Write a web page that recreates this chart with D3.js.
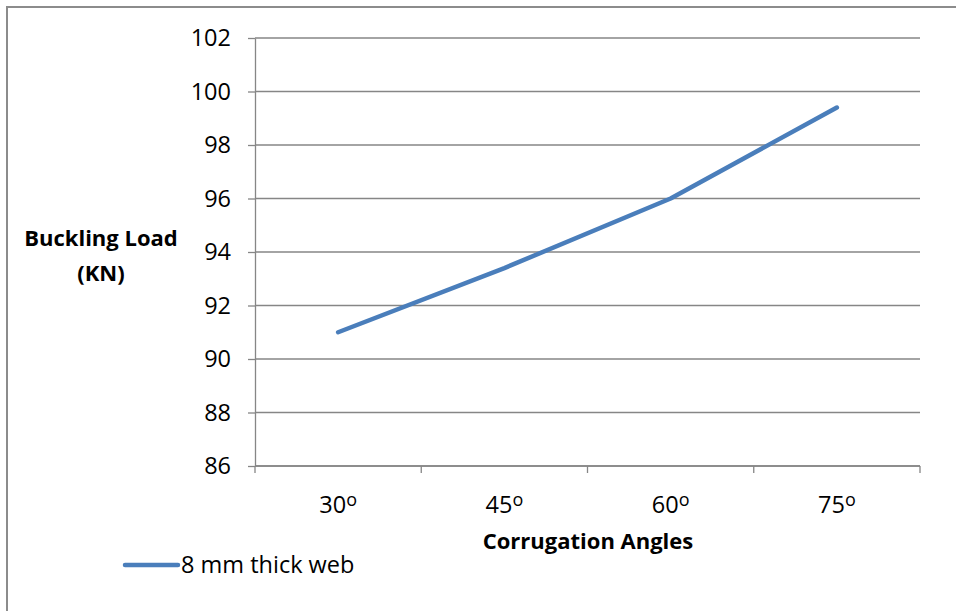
<!DOCTYPE html>
<html>
<head>
<meta charset="utf-8">
<script src="https://cdn.jsdelivr.net/npm/d3@7"></script>
<style>
  html, body { margin: 0; padding: 0; background: #fff; }
  svg { display: block; font-family: "Open Sans", Lato, sans-serif; }
</style>
</head>
<body>
<svg id="chart" width="956" height="611"></svg>
<script>
// Corrugation angle (degrees) and buckling load (kN) for the 8 mm web
const angles = [30, 45, 60, 75];
const bucklingLoad = [91.0, 93.4, 96.0, 99.4];
const yTicks = [86, 88, 90, 92, 94, 96, 98, 100, 102];
const seriesName = "8 mm thick web";

const svg = d3.select("#chart");
const plot = { left: 255, right: 920, top: 38, bottom: 466 };
const gridColor = "#868686";
const lineColor = "#4a7ebb";
const fontFamily = "'Open Sans', Lato, sans-serif";
const labelSize = 23.5;
const titleSize = 22;

// outer chart frame (top and left edges)
svg.append("path")
  .attr("d", "M7,611 L7,7 L956,7")
  .attr("fill", "none").attr("stroke", "#8c8c8c").attr("stroke-width", 2);

const x = d3.scaleBand().domain(angles).range([plot.left, plot.right]);
const y = d3.scaleLinear().domain([86, 102]).range([plot.bottom, plot.top]);

// horizontal gridlines
svg.append("g").selectAll("line").data(yTicks).join("line")
  .attr("x1", plot.left).attr("x2", plot.right)
  .attr("y1", d => y(d)).attr("y2", d => y(d))
  .attr("stroke", gridColor).attr("stroke-width", 1.3);

// y axis
const yAxis = svg.append("g")
  .attr("transform", `translate(${plot.left},0)`)
  .call(d3.axisLeft(y).tickValues(yTicks).tickSize(7).tickPadding(17).tickSizeOuter(0));
yAxis.select(".domain").attr("stroke", gridColor).attr("stroke-width", 1.3);
yAxis.selectAll(".tick line").attr("stroke", gridColor).attr("stroke-width", 1.3);
yAxis.selectAll(".tick text").attr("font-size", labelSize).attr("fill", "#000")
  .attr("font-family", fontFamily);

// x axis: category boundaries carry the tick marks
const xAxisG = svg.append("g").attr("transform", `translate(0,${plot.bottom})`);
xAxisG.append("line")
  .attr("x1", plot.left).attr("x2", plot.right)
  .attr("stroke", gridColor).attr("stroke-width", 1.3);
const boundaries = angles.map(a => x(a)).concat([x(angles[angles.length - 1]) + x.bandwidth()]);
xAxisG.selectAll("line.tk").data(boundaries).join("line").attr("class", "tk")
  .attr("x1", d => d).attr("x2", d => d).attr("y1", 0).attr("y2", 7)
  .attr("stroke", gridColor).attr("stroke-width", 1.3);
const xl = xAxisG.selectAll("text.lbl").data(angles).join("text").attr("class", "lbl")
  .attr("x", d => x(d) + x.bandwidth() / 2).attr("y", 47)
  .attr("text-anchor", "middle").attr("font-size", labelSize).attr("fill", "#000");
xl.append("tspan").text(d => d);
xl.append("tspan").attr("font-size", 18).attr("dy", -7).text("o");

// series line
const line = d3.line()
  .x((d, i) => x(angles[i]) + x.bandwidth() / 2)
  .y(d => y(d));
svg.append("path").datum(bucklingLoad)
  .attr("d", line).attr("fill", "none")
  .attr("stroke", lineColor).attr("stroke-width", 4.5)
  .attr("stroke-linecap", "round").attr("stroke-linejoin", "round");

// axis titles
svg.append("text").attr("x", 588).attr("y", 549)
  .attr("text-anchor", "middle").attr("font-size", titleSize).attr("font-weight", "bold")
  .text("Corrugation Angles");
const yt = svg.append("text").attr("text-anchor", "middle")
  .attr("font-size", titleSize).attr("font-weight", "bold");
yt.append("tspan").attr("x", 101).attr("y", 246).text("Buckling Load");
yt.append("tspan").attr("x", 101).attr("y", 281).text("(KN)");

// legend
svg.append("line").attr("x1", 125).attr("x2", 178).attr("y1", 565).attr("y2", 565)
  .attr("stroke", lineColor).attr("stroke-width", 4.5).attr("stroke-linecap", "round");
svg.append("text").attr("x", 181).attr("y", 573).attr("font-size", labelSize)
  .text(seriesName);
</script>
</body>
</html>
